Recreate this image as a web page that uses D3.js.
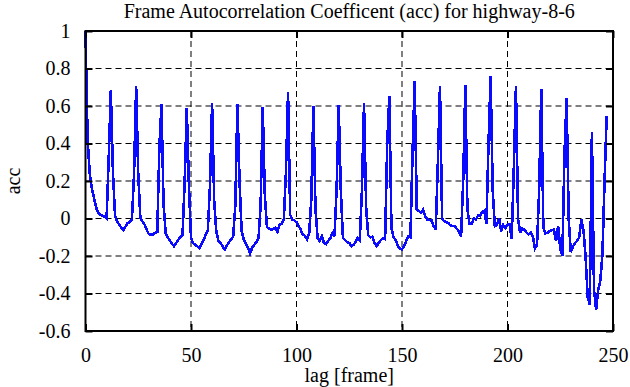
<!DOCTYPE html>
<html>
<head>
<meta charset="utf-8">
<script src="https://cdn.jsdelivr.net/npm/d3@7"></script>
<style>
  body { margin: 0; background: #fff; }
  svg { display: block; }
  text { font-family: "Liberation Serif", "Times New Roman", serif; fill: #000; }
</style>
</head>
<body>
<div id="chart"></div>
<script>
// acc for lags 0..247
const accValues = [
  1.0, 0.42, 0.24, 0.16, 0.11, 0.06, 0.03, 0.02, 0.015, 0.01,
  0.0, 0.32, 0.685, 0.25, 0.012, -0.015, -0.033, -0.05, -0.06, -0.042,
  -0.024, -0.019, -0.006, 0.234, 0.705, 0.234, 0.003, -0.015, -0.033, -0.06,
  -0.083, -0.086, -0.085, -0.077, -0.072, 0.376, 0.609, 0.074, -0.077, -0.1,
  -0.118, -0.136, -0.148, -0.131, -0.113, -0.1, -0.086, 0.198, 0.589, 0.18,
  -0.104, -0.131, -0.14, -0.148, -0.157, -0.136, -0.113, -0.086, -0.06, 0.18,
  0.614, 0.092, -0.07, -0.12, -0.13, -0.15, -0.165, -0.145, -0.125, -0.113,
  -0.095, 0.07, 0.609, 0.2, -0.07, -0.11, -0.135, -0.157, -0.187, -0.155,
  -0.14, -0.125, -0.104, 0.07, 0.593, 0.12, -0.045, -0.055, -0.06, -0.055,
  -0.05, -0.07, -0.033, -0.027, -0.006, 0.25, 0.673, 0.02, -0.005, -0.01,
  -0.02, -0.04, -0.06, -0.086, -0.092, -0.11, -0.08, 0.1, 0.6, 0.05,
  -0.104, -0.12, -0.095, -0.13, -0.136, -0.12, -0.105, -0.077, -0.095, 0.15,
  0.603, 0.15, -0.104, -0.115, -0.125, -0.13, -0.148, -0.14, -0.125, -0.104,
  -0.115, 0.15, 0.614, 0.06, -0.09, -0.1, -0.097, -0.13, -0.148, -0.13,
  -0.115, -0.104, -0.11, 0.4, 0.652, -0.05, -0.1, -0.115, -0.145, -0.16,
  -0.165, -0.145, -0.12, -0.095, -0.1, 0.35, 0.733, 0.05, 0.04, 0.03,
  0.047, 0.012, -0.005, -0.008, -0.01, -0.04, -0.06, 0.3, 0.707, 0.0,
  -0.015, -0.02, -0.025, -0.038, -0.04, -0.042, -0.055, -0.07, -0.095, 0.2,
  0.712, 0.05, -0.03, -0.03, 0.0, -0.006, 0.015, 0.012, 0.035, 0.042,
  -0.03, 0.4, 0.758, 0.15, -0.042, -0.035, 0.003, -0.068, -0.035, -0.05,
  -0.033, -0.03, -0.11, 0.27, 0.705, 0.0, -0.077, -0.055, -0.06, -0.075,
  -0.085, -0.075, -0.095, -0.16, -0.14, 0.15, 0.689, -0.05, -0.08, -0.075,
  -0.068, -0.062, -0.06, -0.12, -0.04, -0.16, -0.2, 0.34, 0.641, 0.0,
  -0.18, -0.15, -0.13, -0.12, -0.1, -0.006, -0.06, -0.2, -0.42, -0.46,
  0.46, -0.38, -0.486, -0.38, -0.33, -0.19, 0.2, 0.545
];
const xTicks = [0, 50, 100, 150, 200, 250];
const yTicks = [-0.6, -0.4, -0.2, 0, 0.2, 0.4, 0.6, 0.8, 1];
const xGrid = [50, 100, 150, 200];
const yGrid = [-0.4, -0.2, 0, 0.2, 0.4, 0.6, 0.8];

function drawChart() {
    const width = 630;
    const height = 387;
    const margin = { top: 31, right: 17, bottom: 56, left: 85.5 };
    const w = width - margin.left - margin.right;
    const h = height - margin.top - margin.bottom;
    const serif = "'Liberation Serif', 'Times New Roman', serif";

    const svg = d3.select("#chart")
        .append("svg")
        .attr("width", width)
        .attr("height", height);

    const g = svg.append("g")
        .attr("transform", `translate(${margin.left},${margin.top})`);

    const x = d3.scaleLinear().domain([0, 250]).range([0, w]);
    const y = d3.scaleLinear().domain([-0.6, 1]).range([h, 0]);

    // dashed grid
    g.selectAll(".gx")
        .data(xGrid)
        .enter().append("line")
        .attr("x1", d => x(d)).attr("x2", d => x(d))
        .attr("y1", 0).attr("y2", h)
        .attr("stroke", "#000")
        .attr("stroke-width", 1)
        .attr("stroke-dasharray", "6,4");

    g.selectAll(".gy")
        .data(yGrid)
        .enter().append("line")
        .attr("x1", 0).attr("x2", w)
        .attr("y1", d => y(d)).attr("y2", d => y(d))
        .attr("stroke", "#000")
        .attr("stroke-width", 1)
        .attr("stroke-dasharray", "6,4");

    // the series
    const line = d3.line()
        .x((d, i) => x(i))
        .y(d => y(d));

    g.append("path")
        .datum(accValues)
        .attr("fill", "none")
        .attr("stroke", "#0a0aff")
        .attr("stroke-width", 2.6)
        .attr("stroke-linejoin", "miter")
        .attr("stroke-miterlimit", 3)
        .attr("shape-rendering", "crispEdges")
        .attr("d", line);

    // axes with inward ticks
    const axisStyle = sel => {
        sel.attr("font-family", serif).attr("font-size", 20);
        sel.select(".domain").remove();
        sel.selectAll(".tick line").attr("stroke", "#000").attr("stroke-width", 2);
        sel.selectAll(".tick text")
            .style("font-family", serif)
            .style("font-size", "20px")
            .attr("fill", "#000");
    };

    g.append("g")
        .attr("transform", `translate(0,${h})`)
        .call(d3.axisBottom(x).tickValues(xTicks).tickSize(-7).tickPadding(17).tickFormat(d3.format("d")))
        .call(axisStyle);

    g.append("g")
        .call(d3.axisTop(x).tickValues(xTicks).tickSize(-7).tickFormat(""))
        .call(axisStyle);

    g.append("g")
        .call(d3.axisLeft(y).tickValues(yTicks).tickSize(-7).tickPadding(15).tickFormat(d => String(+d.toFixed(1))))
        .call(axisStyle);

    g.append("g")
        .attr("transform", `translate(${w},0)`)
        .call(d3.axisRight(y).tickValues(yTicks).tickSize(-7).tickFormat(""))
        .call(axisStyle);

    // frame
    g.append("rect")
        .attr("x", 0).attr("y", 0)
        .attr("width", w).attr("height", h)
        .attr("fill", "none")
        .attr("stroke", "#000")
        .attr("stroke-width", 2);

    svg.append("text")
        .attr("x", margin.left + w / 2)
        .attr("y", 18)
        .attr("text-anchor", "middle")
        .style("font-family", serif)
        .style("font-size", "20px")
        .text("Frame Autocorrelation Coefficent (acc) for highway-8-6");

    svg.append("text")
        .attr("x", margin.left + w / 2)
        .attr("y", 382)
        .attr("text-anchor", "middle")
        .style("font-family", serif)
        .style("font-size", "20px")
        .text("lag [frame]");

    svg.append("text")
        .attr("transform", `translate(20,${margin.top + h / 2}) rotate(-90)`)
        .attr("text-anchor", "middle")
        .style("font-family", serif)
        .style("font-size", "20px")
        .text("acc");
}

drawChart();
</script>
</body>
</html>
